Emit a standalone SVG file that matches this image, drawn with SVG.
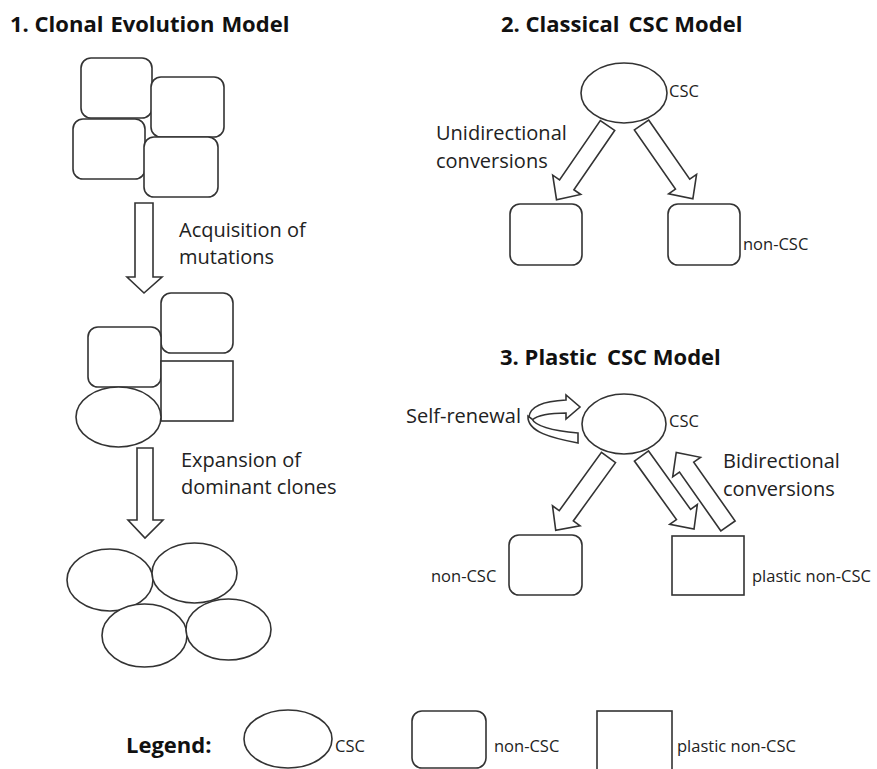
<svg xmlns="http://www.w3.org/2000/svg" width="877" height="769" viewBox="0 0 877 769">
<style>
.s{fill:#fff;stroke:#333;stroke-width:1.6}
.t{font-family:"Open Sans","DejaVu Sans",sans-serif;font-size:20px;fill:#222}
.b{font-family:"Open Sans","DejaVu Sans",sans-serif;font-size:22px;font-weight:bold;fill:#111}
.l{font-family:"Open Sans","DejaVu Sans",sans-serif;font-size:16.5px;fill:#222}
.g{font-family:"Open Sans","DejaVu Sans",sans-serif;font-size:16.5px;fill:#222}
</style>
<defs>
<path id="arr" d="M0,-8.7 H72 V-17 L90,0 L72,17 V8.7 H0 Z"/>
</defs>
<rect width="877" height="769" fill="#fff"/>
<g id="titles">
<text class="b" x="10" y="32">1. Clonal<tspan dx="7">Evolution</tspan><tspan dx="7">Model</tspan></text>
<text class="b" x="501" y="32">2. Classical<tspan dx="9">CSC Model</tspan></text>
<text class="b" x="500" y="365">3. Plastic<tspan dx="10">CSC Model</tspan></text>
</g>
<g id="clonal-top">
<rect class="s" x="81" y="58" width="71" height="60" rx="10"/>
<rect class="s" x="151" y="77" width="73" height="60" rx="10"/>
<rect class="s" x="73" y="119" width="72" height="60" rx="10"/>
<rect class="s" x="144" y="137" width="74" height="60" rx="10"/>
</g>
<g id="clonal-mid">
<rect class="s" x="161" y="293" width="72" height="60" rx="10"/>
<rect class="s" x="88" y="327" width="73" height="60" rx="10"/>
<rect class="s" x="161" y="361" width="72" height="60"/>
<ellipse class="s" cx="118.5" cy="417" rx="42.5" ry="30"/>
</g>
<g id="clonal-bottom">
<ellipse class="s" cx="110" cy="580" rx="43" ry="31"/>
<ellipse class="s" cx="194.5" cy="573" rx="42.5" ry="30"/>
<ellipse class="s" cx="144.5" cy="635.5" rx="42.5" ry="31.5"/>
<ellipse class="s" cx="228.5" cy="629.5" rx="42.5" ry="30.5"/>
</g>
<g id="classical-csc">
<ellipse class="s" cx="624" cy="93" rx="43" ry="30"/>
<text class="l" x="669" y="97">CSC</text>
</g>
<g id="classical-noncsc-left">
<rect class="s" x="510" y="204" width="72" height="61" rx="10"/>
</g>
<g id="classical-noncsc-right">
<rect class="s" x="668" y="204" width="72" height="61" rx="10"/>
<text class="l" x="743" y="250">non-CSC</text>
</g>
<g id="plastic-csc">
<ellipse class="s" cx="624" cy="424" rx="42" ry="30"/>
<text class="l" x="669" y="427">CSC</text>
</g>
<g id="plastic-noncsc">
<rect class="s" x="509" y="535" width="73" height="60" rx="10"/>
<text class="l" x="431" y="582">non-CSC</text>
</g>
<g id="plastic-plastic">
<rect class="s" x="672" y="536" width="72" height="59"/>
<text class="l" x="752" y="582">plastic non-CSC</text>
</g>
<g id="connectors">
<path class="s" d="M135,203 H153 V277 H162 L144,293 L127,277 H135 Z"/>
<path class="s" d="M137,448 H153 V520 H163 L145,538 L128,520 H137 Z"/>
<use href="#arr" class="s" transform="translate(607.5,125.5) rotate(124.5)"/>
<use href="#arr" class="s" transform="translate(641.5,125) rotate(55.2)"/>
<use href="#arr" class="s" transform="translate(608.5,457.5) rotate(125.9)"/>
<use href="#arr" class="s" transform="translate(641.5,456) rotate(54.3)"/>
<use href="#arr" class="s" transform="translate(728,526) rotate(-125.1)"/>
<path class="s" d="M529,417 C530,406 546,401 566,400 L566,395 L580,407 L566,419 L566,413 C551,413 538,415 532,420 Z"/>
<path class="s" d="M528,416 C527,432 552,438 578,443 L578,433 C556,431 536,427 532,419 Z"/>
</g>
<g id="labels">
<text class="t" x="179" y="237">Acquisition of</text>
<text class="t" x="179" y="264">mutations</text>
<text class="t" x="181" y="467">Expansion of</text>
<text class="t" x="181" y="494">dominant clones</text>
<text class="t" x="436" y="140">Unidirectional</text>
<text class="t" x="436" y="168">conversions</text>
<text class="t" x="406" y="423">Self-renewal</text>
<text class="t" x="723" y="468">Bidirectional</text>
<text class="t" x="723" y="496">conversions</text>
</g>
<g id="legend">
<text class="b" x="126" y="753" font-size="23">Legend:</text>
<ellipse class="s" cx="288" cy="739" rx="44" ry="29"/>
<text class="g" x="335" y="752">CSC</text>
<rect class="s" x="412" y="711" width="74" height="57" rx="10"/>
<text class="g" x="494" y="752">non-CSC</text>
<rect class="s" x="597" y="711" width="75" height="62"/>
<text class="g" x="677" y="752">plastic non-CSC</text>
</g>
</svg>
